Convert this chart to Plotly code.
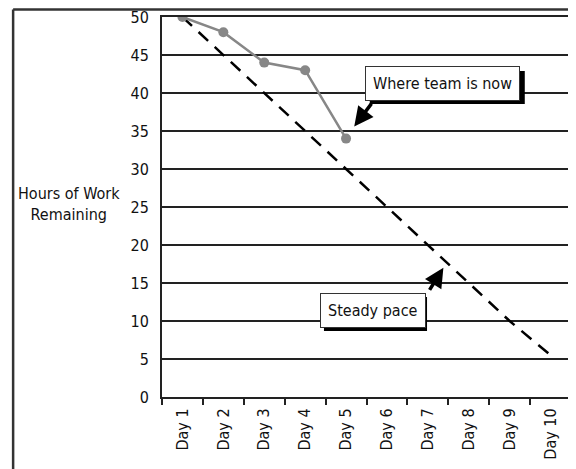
import plotly.graph_objects as go

days = ["Day 1", "Day 2", "Day 3", "Day 4", "Day 5", "Day 6", "Day 7", "Day 8", "Day 9", "Day 10"]
team_days = ["Day 1", "Day 2", "Day 3", "Day 4", "Day 5"]
team_hours = [50, 48, 44, 43, 34]
steady_hours = [50, 45, 40, 35, 30, 25, 20, 15, 10, 5.5]
y_ticks = [0, 5, 10, 15, 20, 25, 30, 35, 40, 45, 50]

FONT = "DejaVu Sans Condensed, Liberation Sans Narrow, DejaVu Sans, Arial"

fig = go.Figure()
fig.add_trace(go.Scatter(
    x=days, y=steady_hours, mode="lines",
    line=dict(color="black", width=2.5, dash="13px,9px"),
    showlegend=False, hoverinfo="skip"))
fig.add_trace(go.Scatter(
    x=team_days, y=team_hours, mode="lines+markers",
    line=dict(color="#878787", width=2.5),
    marker=dict(color="#878787", size=10),
    showlegend=False))

fig.update_xaxes(
    type="category", categoryorder="array", categoryarray=days,
    range=[-0.5, 9.5], tickson="boundaries",
    ticks="outside", ticklen=6, tickwidth=2, tickcolor="#222",
    tickangle=-90, showgrid=False,
    showline=True, linecolor="#222", linewidth=2, mirror=True,
    tickfont=dict(family=FONT, size=16, color="#111"),
    ticklabelstandoff=3, ticklabeloverflow="allow")
fig.update_yaxes(
    range=[0, 50], tickvals=y_ticks, ticks="",
    showgrid=True, gridcolor="#222", gridwidth=2,
    showline=True, linecolor="#222", linewidth=2, mirror=True,
    zeroline=False,
    tickfont=dict(family=FONT, size=16, color="#111"),
    ticklabelstandoff=8, ticklabeloverflow="allow")

def box(text, x, y, shadow):
    # drop shadow as a filled rectangle behind the label box
    sx0, sx1, sy0, sy1 = shadow
    fig.add_shape(type="rect", xref="x", yref="y", x0=sx0, x1=sx1, y0=sy0, y1=sy1,
                  fillcolor="black", line=dict(width=0), layer="above")
    fig.add_annotation(x=x, y=y, xref="x", yref="y", text=text, showarrow=False,
                       font=dict(family=FONT, size=16, color="#111"),
                       bgcolor="white", bordercolor="#333", borderwidth=1, borderpad=7)

def arrow(x0, y0, x1, y1):
    fig.add_annotation(x=x1, y=y1, ax=x0, ay=y0, xref="x", yref="y", axref="x", ayref="y",
                       text="", showarrow=True, arrowhead=2, arrowsize=1.1,
                       arrowwidth=3.5, arrowcolor="black")

arrow(4.65, 38.8, 4.2, 35.6)
arrow(6.02, 13.9, 6.38, 17.0)
box("Where team is now", 6.37, 41.3, (4.58, 8.37, 38.55, 42.9))
box("Steady pace", 4.67, 11.4, (3.46, 5.98, 8.68, 13.16))

fig.add_annotation(x=-0.227, y=0.508, xref="paper", yref="paper",
                   xanchor="center", yanchor="middle",
                   text="Hours of Work<br>Remaining", showarrow=False,
                   font=dict(family=FONT, size=16, color="#111"))

# outer frame
fig.add_shape(type="line", xref="paper", yref="paper", x0=-0.364, x1=-0.364, y0=1.02, y1=-0.2,
              line=dict(color="#333", width=2.5))
fig.add_shape(type="line", xref="paper", yref="paper", x0=-0.364, x1=1.02, y0=1.02, y1=1.02,
              line=dict(color="#333", width=2.5))

# the page shows the figure offset by 8px, so the figure is sized 8px smaller
fig.update_layout(
    width=568, height=461,
    margin=dict(l=154, r=5, t=9, b=72, autoexpand=False),
    plot_bgcolor="white", paper_bgcolor="white",
    font=dict(family=FONT))

fig.write_html("out.html")
